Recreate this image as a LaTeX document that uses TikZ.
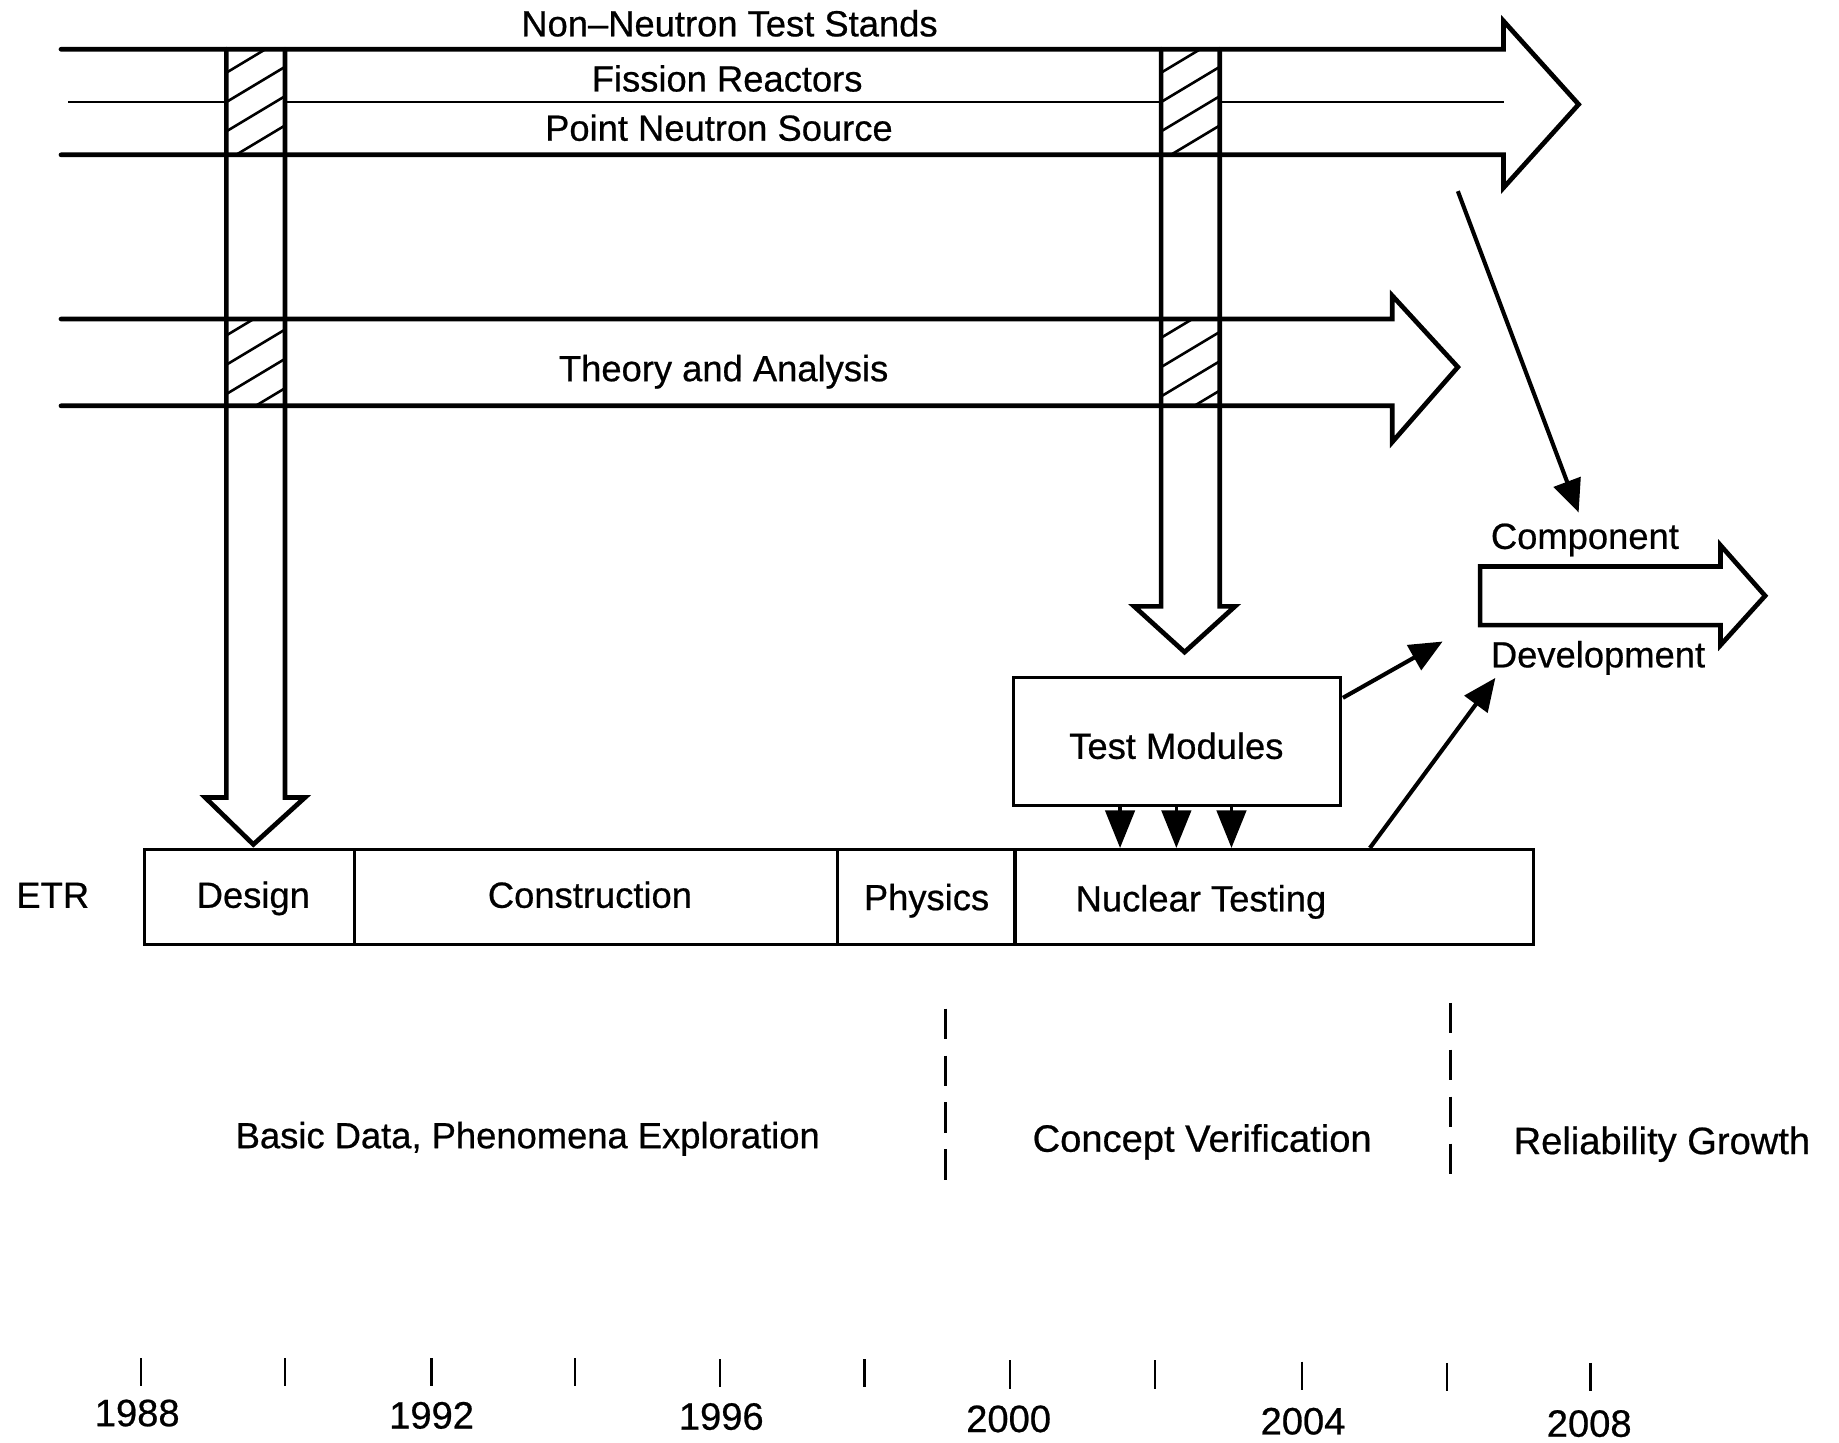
\documentclass[tikz,border=0pt]{standalone}
\usepackage{fontspec}
\setmainfont{Liberation Sans}
\newfontfamily\lblfont{Liberation Sans}[FakeBold=0.6]
\usetikzlibrary{arrows.meta}
\newcommand\myhatch[5]{%
  \begin{scope}
    \clip (#1,#3) rectangle (#2,#4);
    \foreach \k in {-3,...,6} \draw[hatchline] (#1,#5+25*\k) -- (#2,#5+25*\k-30);
  \end{scope}}
\begin{document}
\begin{tikzpicture}[x=1pt,y=-1pt,
  lbl/.style={inner sep=0pt, text height=22pt, text depth=0pt, font=\lblfont\fontsize{31}{36}\selectfont},
  biglbl/.style={lbl, font=\lblfont\fontsize{32.5}{38}\selectfont},
  band/.style={line width=4pt, line join=miter, line cap=round},
  thinline/.style={line width=2pt},
  boxst/.style={draw, line width=2.7pt, inner sep=0pt},
  hatchline/.style={line width=2.2pt},
  solidarrow/.style={line width=3.5pt, -{Triangle[length=28pt,width=24pt]}},
  smallarrow/.style={line width=3pt, -{Triangle[length=32pt,width=25pt]}},
  tickst/.style={line width=2pt},
  phase/.style={line width=2.5pt, dash pattern=on 26pt off 14pt}]

\useasboundingbox (0,0) rectangle (1568,1230);

% ---------- hatching in the crossing regions ----------
\myhatch{193}{243}{42}{132}{62}
\myhatch{990}{1040}{42}{132}{62}
\myhatch{193}{243}{272}{346}{286}
\myhatch{990}{1040}{272}{346}{288}

% ---------- top band (three sources) ----------
\draw[band] (52,42) -- (1282,42) -- (1282,18) -- (1346,89) -- (1282,160) -- (1282,132) -- (52,132);
\draw[thinline] (58,87) -- (193,87);
\draw[thinline] (243,87) -- (990,87);
\draw[thinline] (1040,87) -- (1282,87);
\node[lbl] (nnts) at (622,20) {Non–Neutron Test Stands};
\node[lbl] (fr) at (620,67) {Fission Reactors};
\node[lbl] (pns) at (613,109) {Point Neutron Source};

% ---------- second band ----------
\draw[band] (52,272) -- (1187,272) -- (1187,252) -- (1243,313) -- (1187,377) -- (1187,346) -- (52,346);
\node[lbl] (ta) at (617,314) {Theory and Analysis};

% ---------- vertical hollow arrows ----------
\draw[band] (193,42) -- (193,680) -- (175,680) -- (216,720) -- (260,680) -- (243,680) -- (243,42);
\draw[band] (990,42) -- (990,517) -- (967,517) -- (1010,556) -- (1053,517) -- (1040,517) -- (1040,42);

% ---------- ETR row ----------
\node[lbl] (etr) at (45,763) {ETR};
\node[boxst, minimum width=179pt, minimum height=81pt, anchor=north west] (design) at (122,723) {};
\node[boxst, minimum width=412pt, minimum height=81pt, anchor=north west] (constr) at (301,723) {};
\node[boxst, minimum width=151pt, minimum height=81pt, anchor=north west] (phys) at (713,723) {};
\node[boxst, minimum width=442pt, minimum height=81pt, anchor=north west] (nt) at (864,723) {};
\node[lbl] (designl) at (216,763) {Design};
\node[lbl] (constrl) at (503,763) {Construction};
\node[lbl] (physl) at (790,765) {Physics};
\node[lbl] (ntl) at (1024,766) {Nuclear Testing};

% ---------- test modules ----------
\node[boxst, minimum width=279pt, minimum height=109pt] (tm) at (1003.5,632.5) {};
\node[lbl] (tml) at (1003,636) {Test Modules};
\foreach \x [count=\i] in {955,1003,1050} {
  \coordinate (sa\i) at (\x,0);
  \draw[smallarrow] (tm.south -| sa\i) -- (nt.north -| sa\i);
}

% ---------- component development ----------
\draw[band] (1262,483) -- (1467,483) -- (1467,465) -- (1505,508) -- (1467,550) -- (1467,533) -- (1262,533) -- cycle;
\node[lbl, anchor=west] (comp) at (1271,457) {Component};
\node[lbl, anchor=west] (dev) at (1271,558) {Development};

\coordinate (topout) at (1243,163);
\coordinate (compin) at (1346,437);
\draw[solidarrow] (topout) -- (compin);
\coordinate (tmout) at (1145,595);
\coordinate (devin1) at (1230,547);
\draw[solidarrow] (tmout) -- (devin1);
\coordinate (ntx) at (1168,0);
\coordinate (devin2) at (1275,578);
\draw[solidarrow] (nt.north -| ntx) -- (devin2);

% ---------- phases ----------
\coordinate (d1a) at (806,860);
\coordinate (d1b) at (806,1010);
\coordinate (d2a) at (1237,855);
\coordinate (d2b) at (1237,1012);
\draw[phase] (d1a) -- (d1b);
\draw[phase] (d2a) -- (d2b);
\node[lbl] (ph1) at (450,968) {Basic Data, Phenomena Exploration};
\node[biglbl] (ph2) at (1025,971) {Concept Verification};
\node[biglbl] (ph3) at (1417,973) {Reliability Growth};

% ---------- time axis ----------
\foreach \x/\yy [count=\i] in {120/1158,243/1158,368/1158,490/1158,614/1159,737/1159,861/1160,985/1160,1110/1161,1234/1162,1356/1162} {
  \coordinate (tka\i) at (\x,\yy);
  \coordinate (tkb\i) at (\x,\yy+24);
  \draw[tickst] (tka\i) -- (tkb\i);
}
\node[biglbl] (y1988) at (117,1205) {1988};
\node[biglbl] (y1992) at (368,1207) {1992};
\node[biglbl] (y1996) at (615,1208) {1996};
\node[biglbl] (y2000) at (860,1210) {2000};
\node[biglbl] (y2004) at (1111,1212) {2004};
\node[biglbl] (y2008) at (1355,1214) {2008};
\end{tikzpicture}
\end{document}
